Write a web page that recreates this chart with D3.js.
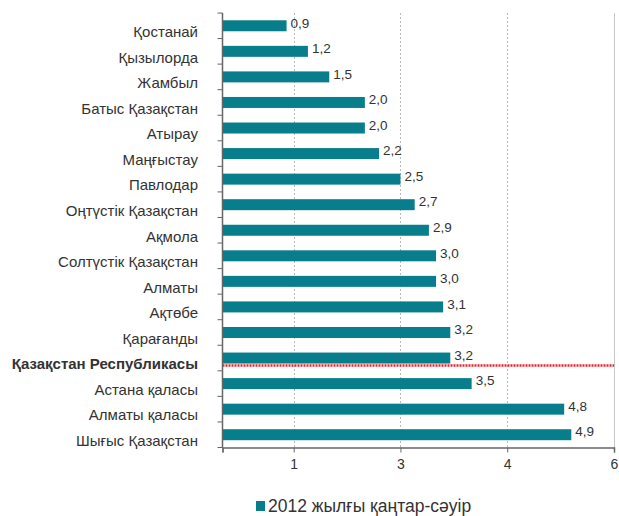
<!DOCTYPE html>
<html>
<head>
<meta charset="utf-8">
<script src="https://cdn.jsdelivr.net/npm/d3@7"></script>
<style>
  body { margin: 0; background: #fff; }
  text { font-family: "Liberation Sans", Arial, sans-serif; fill: #333; }
</style>
</head>
<body>
<div id="chart"></div>
<script>
let width = 619
let height = 516

// regions, top to bottom
let regions = ['Қостанай', 'Қызылорда', 'Жамбыл', 'Батыс Қазақстан', 'Атырау', 'Маңғыстау',
  'Павлодар', 'Оңтүстік Қазақстан', 'Ақмола', 'Солтүстік Қазақстан', 'Алматы', 'Ақтөбе',
  'Қарағанды', 'Қазақстан Республикасы', 'Астана қаласы', 'Алматы қаласы', 'Шығыс Қазақстан']
let values = [0.9, 1.2, 1.5, 2.0, 2.0, 2.2, 2.5, 2.7, 2.9, 3.0, 3.0, 3.1, 3.2, 3.2, 3.5, 4.8, 4.9]
let tickValues = [0, 1, 2.5, 4, 5.5]
let tickLabels = ['', '1', '3', '4', '6']
let seriesName = '2012 жылғы қаңтар-сәуір'
let totalName = 'Қазақстан Республикасы'

let margin = { top: 13, right: 5, bottom: 68.5, left: 222.5 }
let barColor = '#087d8c'

let svg = d3.select('#chart')
            .append('svg')
            .attr('width', width)
            .attr('height', height)

let x = d3.scaleLinear()
          .domain([0, 5.5])
          .range([margin.left, 614])

let y = d3.scaleBand()
          .domain(regions)
          .range([margin.top, height - margin.bottom])
          .paddingInner(0.57)
          .paddingOuter(0.285)

// dotted grid lines
svg.append('g')
   .selectAll('line')
   .data(tickValues.slice(1, -1))
   .enter()
   .append('line')
   .attr('x1', d => Math.round(x(d)) + 0.5)
   .attr('x2', d => Math.round(x(d)) + 0.5)
   .attr('y1', margin.top)
   .attr('y2', height - margin.bottom)
   .attr('stroke', '#bbb')
   .attr('stroke-dasharray', '2,2')

// right border of plot
svg.append('line')
   .attr('x1', Math.round(x(5.5)) + 0.5)
   .attr('x2', Math.round(x(5.5)) + 0.5)
   .attr('y1', margin.top)
   .attr('y2', height - margin.bottom)
   .attr('stroke', '#c8c8c8')

// bars
svg.append('g')
   .selectAll('rect')
   .data(values)
   .enter()
   .append('rect')
   .attr('x', x(0))
   .attr('y', (d, i) => y(regions[i]))
   .attr('width', d => x(d) - x(0))
   .attr('height', y.bandwidth())
   .attr('fill', barColor)

// value labels
svg.append('g')
   .selectAll('text')
   .data(values)
   .enter()
   .append('text')
   .attr('x', d => x(d) + 4)
   .attr('y', (d, i) => y(regions[i]) + y.bandwidth() / 2 - 3)
   .attr('dy', '0.35em')
   .style('font-size', '13.5px')
   .text(d => d3.format('.1f')(d).replace('.', ','))

// red dotted line under the national total
let ry = y(totalName) + y.bandwidth() + 2
svg.append('line')
   .attr('x1', x(0))
   .attr('x2', x(5.5))
   .attr('y1', ry)
   .attr('y2', ry)
   .attr('stroke', '#e8242a')
   .attr('stroke-width', 2.5)
   .attr('stroke-dasharray', '2,1')

// category axis
let yAxis = svg.append('g')
let axisBottomY = height - margin.bottom
yAxis.append('line')
     .attr('x1', x(0))
     .attr('x2', x(0))
     .attr('y1', margin.top)
     .attr('y2', axisBottomY)
     .attr('stroke', '#666')
     .attr('stroke-width', 1.5)
yAxis.selectAll('.tk')
     .data(d3.range(regions.length + 1))
     .enter()
     .append('line')
     .attr('class', 'tk')
     .attr('x1', x(0) - 5)
     .attr('x2', x(0))
     .attr('y1', i => margin.top + i * y.step())
     .attr('y2', i => margin.top + i * y.step())
     .attr('stroke', '#666')
yAxis.selectAll('text')
     .data(regions)
     .enter()
     .append('text')
     .attr('x', 198)
     .attr('y', d => y(d) + y.bandwidth() / 2 + 6)
     .attr('dy', '0.35em')
     .attr('text-anchor', 'end')
     .style('font-size', '15px')
     .style('font-weight', d => d === totalName ? 'bold' : 'normal')
     .text(d => d)

// value axis
let xAxis = svg.append('g')
               .attr('transform', 'translate(0,' + axisBottomY + ')')
               .call(d3.axisBottom(x)
                       .tickValues(tickValues)
                       .tickFormat((d, i) => tickLabels[i])
                       .tickSize(5)
                       .tickPadding(7))
xAxis.select('.domain').attr('stroke', '#666').attr('stroke-width', 1.5)
xAxis.selectAll('.tick line').attr('stroke', '#666')
xAxis.selectAll('.tick text')
     .style('font-family', '"Liberation Sans", Arial, sans-serif')
     .style('font-size', '14px')
     .attr('fill', '#333')

// legend
let legend = svg.append('g')
legend.append('rect')
      .attr('x', 256)
      .attr('y', 501)
      .attr('width', 9)
      .attr('height', 10)
      .attr('fill', barColor)
legend.append('text')
      .attr('x', 268)
      .attr('y', 512)
      .style('font-size', '17.5px')
      .text(seriesName)
</script>
</body>
</html>
